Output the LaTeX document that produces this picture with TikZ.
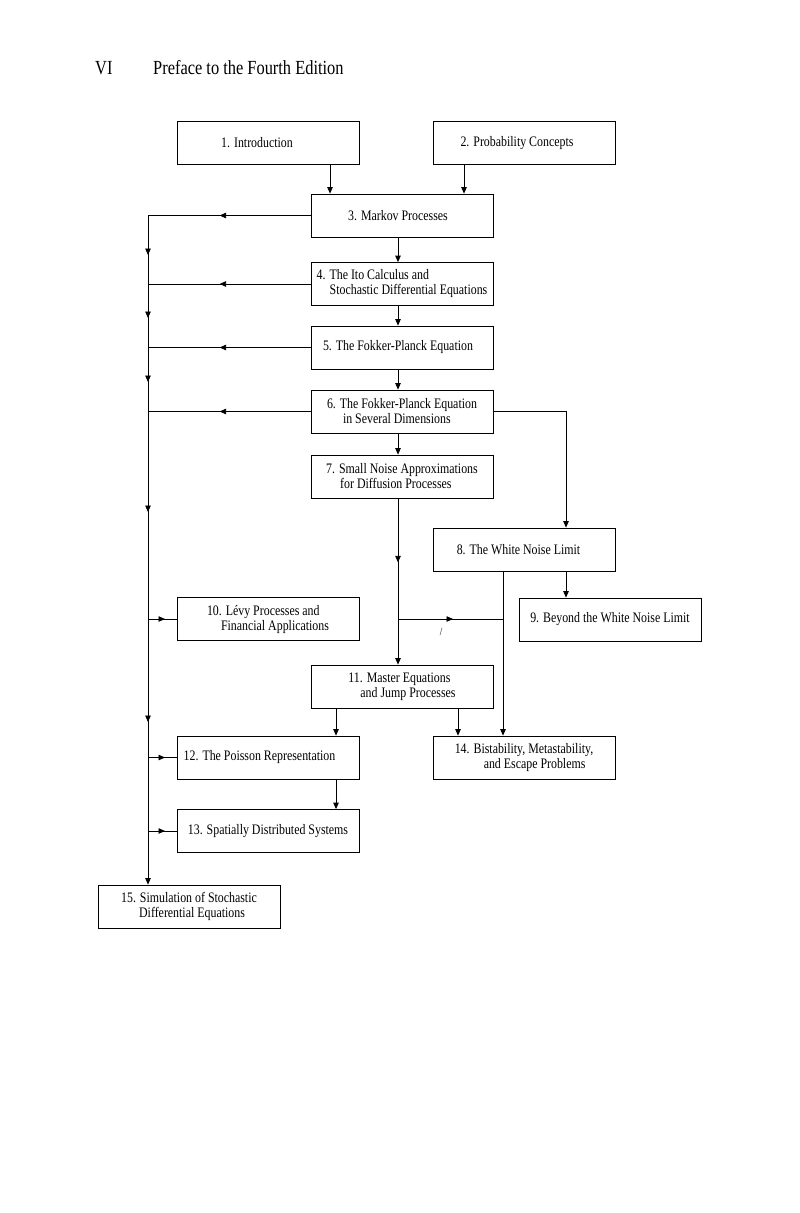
\documentclass[tikz,border=0pt]{standalone}
\usepackage{fontspec}
\setmainfont[FakeStretch=0.82]{Liberation Serif}
\usetikzlibrary{arrows.meta,decorations.markings}
\newcommand{\lowtxt}[1]{\raisebox{-1.5pt}{#1}}
\tikzset{
  tri/.tip={Triangle[length=6.5pt,width=5.5pt]},
  box/.style={draw, line width=0.8pt, minimum width=182pt, minimum height=43pt,
    inner sep=0pt, align=left, font=\fontsize{14.5}{15}\selectfont},
  conn/.style={line width=0.8pt},
  marr/.style={postaction={decorate,decoration={markings,mark=at position #1 with {\arrow{tri}}}}},
  busmarks/.style={postaction={decorate,decoration={markings,
    mark=at position 39.5pt with {\arrow{tri}},
    mark=at position 102.5pt with {\arrow{tri}},
    mark=at position 166.5pt with {\arrow{tri}},
    mark=at position 296.5pt with {\arrow{tri}},
    mark=at position 506.5pt with {\arrow{tri}}}}},
  head/.style={anchor=base west, inner sep=0pt, font=\fontsize{20}{20}\selectfont}
}
\begin{document}
\begin{tikzpicture}[x=1pt,y=-1pt]
\fill[white] (0,0) rectangle (800,1213);
\useasboundingbox (0,0) rectangle (800,1213);

\node[head] (pg) at (95,74.5) {VI};
\node[head] (title) at (153,74.5) {Preface to the Fourth Edition};

\node[box] (b1) at (268,143) {\lowtxt{1. Introduction}\hspace*{22pt}};
\node[box] (b2) at (524,143) {\lowtxt{2. Probability Concepts}\hspace*{14pt}};
\node[box] (b3) at (402,215.5) {\lowtxt{3. Markov Processes}\hspace*{8pt}};
\node[box] (b4) at (402,284) {4. The Ito Calculus and\\\hspace*{13pt}Stochastic Differential Equations};
\node[box] (b5) at (402,347.5) {\lowtxt{5. The Fokker-Planck Equation}\hspace*{8pt}};
\node[box] (b6) at (402,411.5) {6. The Fokker-Planck Equation\\\hspace*{16pt}in Several Dimensions};
\node[box] (b7) at (402,476.5) {7. Small Noise Approximations\\\hspace*{14pt}for Diffusion Processes};
\node[box] (b8) at (524,549.5) {\lowtxt{8. The White Noise Limit}\hspace*{11pt}};
\node[box] (b9) at (610,619.5) {\lowtxt{9. Beyond the White Noise Limit}};
\node[box] (b10) at (268,619) {10. L\'evy Processes and\\\hspace*{14pt}Financial Applications};
\node[box] (b11) at (402,686.5) {11. Master Equations\\\hspace*{12pt}and Jump Processes};
\node[box] (b12) at (268,757.5) {\lowtxt{12. The Poisson Representation}\hspace*{17pt}};
\node[box] (b13) at (268,831) {\lowtxt{13. Spatially Distributed Systems}};
\node[box] (b14) at (524,757.5) {14. Bistability, Metastability,\\\hspace*{29pt}and Escape Problems};
\node[box] (b15) at (189,906.5) {15. Simulation of Stochastic\\\hspace*{18pt}Differential Equations};

\coordinate (bx) at (148,0);
\coordinate (x330) at (330,0);
\coordinate (x464) at (464,0);
\coordinate (x398) at (398,0);
\coordinate (x566) at (566,0);
\coordinate (x503) at (503,0);
\coordinate (x336) at (336,0);
\coordinate (x458) at (458,0);

\draw[conn,-tri] (x330 |- b1.south) -- (x330 |- b3.north);
\draw[conn,-tri] (x464 |- b2.south) -- (x464 |- b3.north);
\draw[conn,-tri] (x398 |- b3.south) -- (x398 |- b4.north);
\draw[conn,-tri] (x398 |- b4.south) -- (x398 |- b5.north);
\draw[conn,-tri] (x398 |- b5.south) -- (x398 |- b6.north);
\draw[conn,-tri] (x398 |- b6.south) -- (x398 |- b7.north);

\draw[conn,marr=91pt] (b3.west) -- (b3.west -| bx);
\draw[conn,marr=91pt] (b4.west) -- (b4.west -| bx);
\draw[conn,marr=91pt] (b5.west) -- (b5.west -| bx);
\draw[conn,marr=91pt] (b6.west) -- (b6.west -| bx);
\draw[conn,-tri,busmarks] (b3.west -| bx) -- (bx |- b15.north);

\draw[conn,marr=17pt] (b10.west -| bx) -- (b10.west);
\draw[conn,marr=17pt] (b12.west -| bx) -- (b12.west);
\draw[conn,marr=17pt] (b13.west -| bx) -- (b13.west);

\draw[conn,-tri] (b6.east) -| (x566 |- b8.north);
\draw[conn,-tri,marr=64pt] (x398 |- b7.south) -- (x398 |- b11.north);
\draw[conn,marr=55pt] (x398 |- b10.east) -- (x503 |- b10.east);
\draw[conn,-tri] (x503 |- b8.south) -- (x503 |- b14.north);
\draw[conn,-tri] (x566 |- b8.south) -- (x566 |- b9.north);
\draw[conn,-tri] (x336 |- b11.south) -- (x336 |- b12.north);
\draw[conn,-tri] (x458 |- b11.south) -- (x458 |- b14.north);
\draw[conn,-tri] (x336 |- b12.south) -- (x336 |- b13.north);

\node[inner sep=0pt, font=\fontsize{11}{11}\selectfont] (slash) at (441,632) {/};
\end{tikzpicture}
\end{document}
